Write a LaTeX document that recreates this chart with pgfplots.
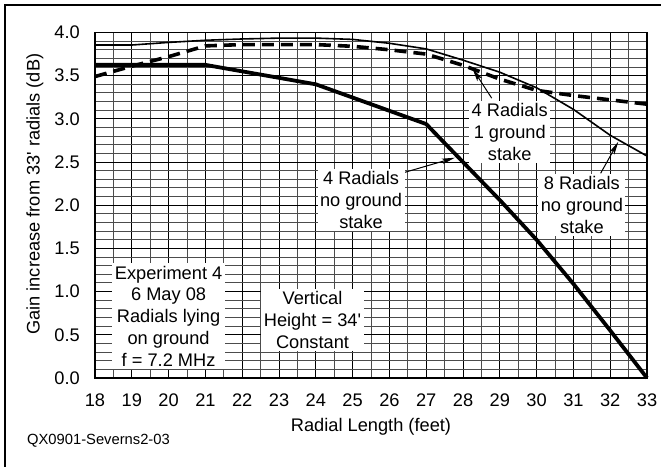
\documentclass[border=0pt]{standalone}
\usepackage{pgfplots}
\pgfplotsset{compat=1.18}
\usepackage{fontspec}
\setmainfont{Liberation Sans}
\usetikzlibrary{arrows.meta}

\begin{document}
\fontsize{18.3}{22}\selectfont
\begin{tikzpicture}[x=1bp,y=1bp]
\useasboundingbox (-95,-89) rectangle (566,378);
\begin{axis}[
  scale only axis,
  width=552bp, height=345.5bp,
  xmin=18, xmax=33, ymin=0, ymax=4,
  xtick={18,...,33},
  ytick={0,0.5,...,4},
  minor x tick num=1,
  minor y tick num=4,
  grid=both,
  major grid style={black, line width=1bp},
  minor grid style={black!70, line width=1bp},
  major tick length=0pt, minor tick length=0pt,
  axis line style={line width=1.3bp},
  clip=false,
  /pgf/number format/assume math mode=true,
  yticklabel style={/pgf/number format/fixed, /pgf/number format/fixed zerofill,
    /pgf/number format/precision=1, anchor=east, inner sep=0pt, xshift=-15bp},
  xticklabel style={anchor=base, inner sep=0pt, yshift=-28.7bp},
  xlabel={Radial Length (feet)},
  ylabel={Gain increase from 33\textquotesingle{} radials (dB)},
  every axis x label/.style={at={(axis description cs:0.5,-0.1554)}, anchor=base},
  every axis y label/.style={at={(axis description cs:-0.1087,0.532)}, rotate=90, anchor=center},
  every node/.append style={font=\fontsize{18.3}{22}\selectfont},
]
% 8 radials, no ground stake
\addplot[black, line width=1.6bp, line join=round] coordinates {
  (18,3.855) (19,3.855) (20,3.885) (21,3.91) (22,3.925) (23,3.935) (24,3.935)
  (25,3.92) (26,3.875) (27,3.81) (28,3.68) (29,3.54) (30,3.36) (31,3.11)
  (32,2.81) (33,2.57)};
% 4 radials, 1 ground stake
\addplot[black, line width=3.6bp, dash pattern=on 12bp off 7bp] coordinates {
  (18,3.49) (19,3.61) (20,3.72) (21,3.845) (22,3.86) (23,3.86) (24,3.86)
  (25,3.84) (26,3.80) (27,3.75) (28,3.62) (29,3.46) (30,3.33) (31,3.27)
  (32,3.22) (33,3.17)};
% 4 radials, no ground stake
\addplot[black, line width=3.8bp, line join=round] coordinates {
  (18,3.625) (21,3.625) (24,3.40) (27,2.94) (28,2.50) (29,2.06) (30,1.60)
  (31,1.09) (32,0.55) (33,0)};

\tikzset{lbl/.style={fill=white, align=center, inner sep=2.5bp},
         arr/.style={line width=1bp, -{Stealth[length=13bp,width=5.5bp,inset=3bp]}}}
\draw[arr] (axis cs:28.78,3.24) -- (axis cs:28.26,3.58);
\draw[arr] (axis cs:26.33,2.37) -- (axis cs:27.78,2.55);
\draw[arr] (axis cs:31.74,2.37) -- (axis cs:32.22,2.735);
\node[lbl] at (axis cs:29.27,2.85) {4 Radials\\1 ground\\stake};
\node[lbl] at (axis cs:25.23,2.06) {4 Radials\\no ground\\stake};
\node[lbl] at (axis cs:31.23,2.00) {8 Radials\\no ground\\stake};
\node[lbl] at (axis cs:20.0,0.715) {Experiment 4\\6 May 08\\Radials lying\\on ground\\f = 7.2 MHz};
\node[lbl] at (axis cs:23.91,0.67) {Vertical\\Height = 34\textquotesingle\\Constant};
\node[anchor=base west, inner sep=0pt, font=\fontsize{14.8}{18}\selectfont]
  at (axis description cs:-0.1232,-0.1939) {QX0901-Severns2-03};
\end{axis}
\draw[line width=1.5bp] (-90,-100) -- (-90,373) -- (600,373);
\end{tikzpicture}
\end{document}
